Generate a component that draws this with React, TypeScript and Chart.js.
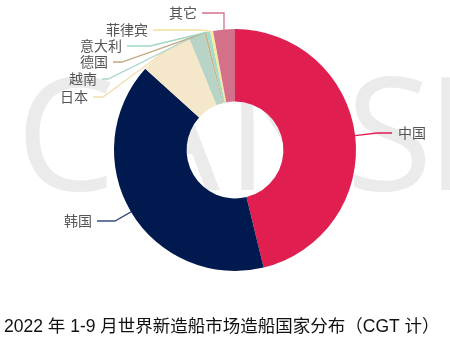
import React, { useEffect, useRef } from "react";
import { Chart, registerables } from "chart.js";

Chart.register(...registerables);

// ---- data ----
const countries = ["中国", "韩国", "日本", "越南", "德国", "意大利", "菲律宾", "其它"];
const shares = [46.2, 40.5, 7.1, 2.1, 0.3, 0.5, 0.4, 2.9];
const sliceColors = ["#E01E50", "#00194F", "#F5E7C9", "#B7D4C6", "#C9B38D", "#A3DCC8", "#F9E7A2", "#D3708A"];
const lineColors = ["#E01E50", "#3A4C82", "#F2DDB0", "#A9D5C8", "#C4A783", "#9ED8C4", "#F5DFA0", "#D3708A"];
const titleText = "2022 年 1-9 月世界新造船市场造船国家分布（CGT 计）";
const watermark = ["C", "A", "N", "S", "I"];

// ---- label layout (positions of label text / elbow) ----
const labelLayout = [
  { side: "right", x: 398, y: 133, elbowX: 377 },
  { side: "left", x: 92, y: 221, elbowX: 115 },
  { side: "left", x: 88, y: 97, elbowX: 103 },
  { side: "left", x: 97, y: 79, elbowX: 108 },
  { side: "left", x: 108, y: 62, elbowX: 122 },
  { side: "left", x: 122, y: 46, elbowX: 150 },
  { side: "left", x: 148, y: 30, elbowX: 200 },
  { side: "left", x: 197, y: 13, elbowX: null as number | null },
];
const watermarkX = [16, 120, 226, 346, 426];

const watermarkPlugin = {
  id: "watermark",
  beforeDraw(chart: any) {
    const ctx = chart.ctx;
    ctx.save();
    ctx.fillStyle = "#ebebeb";
    ctx.font = "400 158px 'Open Sans', 'DejaVu Sans', sans-serif";
    ctx.textBaseline = "alphabetic";
    watermark.forEach((ch, i) => ctx.fillText(ch, watermarkX[i], 190));
    ctx.restore();
  },
};

const labelPlugin = {
  id: "pieLabels",
  afterDatasetsDraw(chart: any) {
    const ctx = chart.ctx;
    const meta = chart.getDatasetMeta(0);
    ctx.save();
    ctx.font = "14px 'Noto Sans CJK SC', sans-serif";
    ctx.textBaseline = "middle";
    meta.data.forEach((arc: any, i: number) => {
      const mid = (arc.startAngle + arc.endAngle) / 2;
      const px = arc.x + Math.cos(mid) * arc.outerRadius;
      const py = arc.y + Math.sin(mid) * arc.outerRadius;
      const L = labelLayout[i];
      const ex = L.elbowX == null ? px : L.elbowX;
      const endX = L.side === "right" ? L.x - 6 : L.x + 5;
      ctx.strokeStyle = lineColors[i];
      ctx.lineWidth = 1.3;
      ctx.beginPath();
      ctx.moveTo(px, py);
      ctx.lineTo(ex, L.y);
      ctx.lineTo(endX, L.y);
      ctx.stroke();
      ctx.fillStyle = "#555555";
      ctx.textAlign = L.side === "right" ? "left" : "right";
      ctx.fillText(countries[i], L.x, L.y);
    });
    ctx.restore();
  },
  afterDraw(chart: any) {
    const ctx = chart.ctx;
    ctx.save();
    ctx.fillStyle = "#111111";
    ctx.font = "17.5px 'Liberation Sans', 'Noto Sans CJK SC', sans-serif";
    ctx.textAlign = "left";
    ctx.textBaseline = "alphabetic";
    ctx.fillText(titleText, 4, 332);
    ctx.restore();
  },
};

export default function App() {
  const ref = useRef<HTMLCanvasElement>(null);
  useEffect(() => {
    if (!ref.current) return;
    const chart = new Chart(ref.current, {
      type: "doughnut",
      data: {
        labels: countries,
        datasets: [
          {
            data: shares,
            backgroundColor: sliceColors,
            borderWidth: 0,
          },
        ],
      },
      options: {
        responsive: false,
        animation: false,
        cutout: "40%",
        layout: { padding: { left: 114, right: 94, top: 29, bottom: 68 } },
        plugins: {
          legend: { display: false },
          tooltip: { enabled: false },
          title: { display: false },
        },
        events: [],
      },
      plugins: [watermarkPlugin, labelPlugin],
    });
    return () => chart.destroy();
  }, []);
  return (
    <div style={{ position: "absolute", left: 0, top: 0, width: 450, height: 339, background: "#fff" }}>
      <canvas ref={ref} width={450} height={339} />
    </div>
  );
}
